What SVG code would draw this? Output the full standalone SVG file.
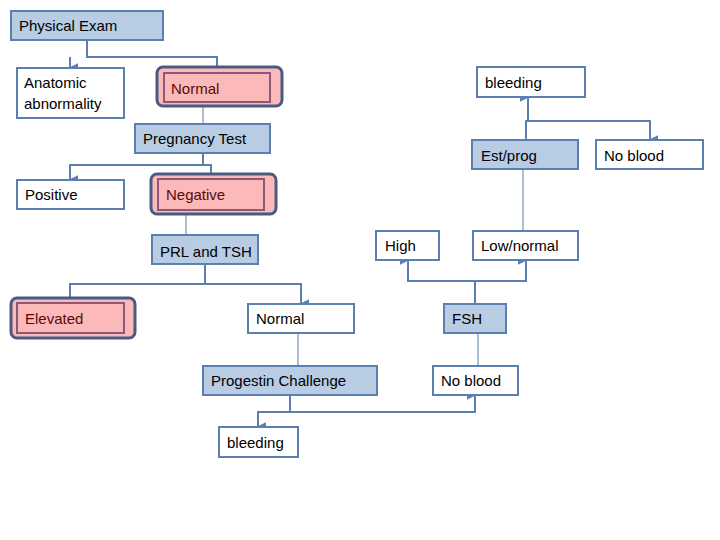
<svg xmlns="http://www.w3.org/2000/svg" width="720" height="540" viewBox="0 0 720 540">
<defs>
<style>
.b{fill:#b8cce4;stroke:#5a7fb0;stroke-width:2}
.w{fill:#fff;stroke:#5a7fb0;stroke-width:2}
.po{fill:#fbb9b9;stroke:#4a5a80;stroke-width:3}
.pi{fill:#fbb9b9;stroke:#8a5a78;stroke-width:2}
text{font-family:"Liberation Sans",Arial,sans-serif;font-size:15px;fill:#000}
.r{fill:#5a0a0a}
.c{fill:none;stroke:#5a7fb0;stroke-width:2}
.t{fill:none;stroke:#5a7fb0;stroke-width:1}
</style>
<marker id="a" viewBox="0 0 6 6" refX="3" refY="5" markerWidth="5" markerHeight="5" orient="auto-start-reverse"><path d="M0,0L6,0L3,6z" fill="#5a7fb0"/></marker>
</defs>
<g id="connectors">
<path class="c" d="M87,40V57H217V73" marker-end="url(#a)"/>
<path class="c" d="M70,57V68" marker-end="url(#a)"/>
<path class="t" d="M203,102V124"/>
<path class="c" d="M203,153V165H211V179" marker-end="url(#a)"/>
<path class="c" d="M203,165H70V180" marker-end="url(#a)"/>
<path class="t" d="M186,210V235"/>
<path class="c" d="M205,264V284H301V304" marker-end="url(#a)"/>
<path class="c" d="M205,284H70V303" marker-end="url(#a)"/>
<path class="t" d="M298,333V366"/>
<path class="c" d="M290,395V412H475V395" marker-end="url(#a)"/>
<path class="c" d="M290,412H258V427" marker-end="url(#a)"/>
<path class="t" d="M478,366V333"/>
<path class="c" d="M475,304V281H526V260" marker-end="url(#a)"/>
<path class="c" d="M475,281H408V260" marker-end="url(#a)"/>
<path class="t" d="M523,231V169"/>
<path class="c" d="M526,140V121H650V140" marker-end="url(#a)"/>
<path class="c" d="M526,121H528V97" marker-end="url(#a)"/>
</g>
<g id="physical-exam"><rect class="b" x="11" y="11" width="152" height="29"/><text x="19" y="31">Physical Exam</text></g>
<g id="anatomic"><rect class="w" x="17" y="68" width="107" height="50"/><text x="24" y="88">Anatomic</text><text x="24" y="109">abnormality</text></g>
<g id="normal1"><rect class="po" x="157" y="67" width="125" height="39" rx="6"/><rect class="pi" x="164" y="73" width="106" height="29"/><text class="r" x="171" y="94">Normal</text></g>
<g id="pregnancy"><rect class="b" x="135" y="124" width="135" height="29"/><text x="143" y="144">Pregnancy Test</text></g>
<g id="positive"><rect class="w" x="17" y="180" width="107" height="29"/><text x="25" y="200">Positive</text></g>
<g id="negative"><rect class="po" x="151" y="174" width="125" height="40" rx="6"/><rect class="pi" x="158" y="179" width="106" height="31"/><text class="r" x="166" y="200">Negative</text></g>
<g id="prl"><rect class="b" x="152" y="235" width="106" height="29"/><text x="160" y="257">PRL and TSH</text></g>
<g id="elevated"><rect class="po" x="11" y="298" width="124" height="40" rx="6"/><rect class="pi" x="17" y="303" width="107" height="30"/><text class="r" x="25" y="324">Elevated</text></g>
<g id="normal2"><rect class="w" x="248" y="304" width="106" height="29"/><text x="256" y="324">Normal</text></g>
<g id="progestin"><rect class="b" x="203" y="366" width="174" height="29"/><text x="211" y="386">Progestin Challenge</text></g>
<g id="bleeding2"><rect class="w" x="219" y="427" width="79" height="30"/><text x="227" y="448">bleeding</text></g>
<g id="fsh"><rect class="b" x="444" y="304" width="62" height="29"/><text x="452" y="324">FSH</text></g>
<g id="noblood2"><rect class="w" x="433" y="366" width="85" height="29"/><text x="441" y="386">No blood</text></g>
<g id="high"><rect class="w" x="376" y="231" width="63" height="29"/><text x="385" y="251">High</text></g>
<g id="lownormal"><rect class="w" x="473" y="231" width="105" height="29"/><text x="481" y="251">Low/normal</text></g>
<g id="estprog"><rect class="b" x="472" y="140" width="106" height="29"/><text x="481" y="161">Est/prog</text></g>
<g id="noblood1"><rect class="w" x="596" y="140" width="107" height="29"/><text x="604" y="161">No blood</text></g>
<g id="bleeding1"><rect class="w" x="477" y="67" width="108" height="30"/><text x="485" y="88">bleeding</text></g>
</svg>
